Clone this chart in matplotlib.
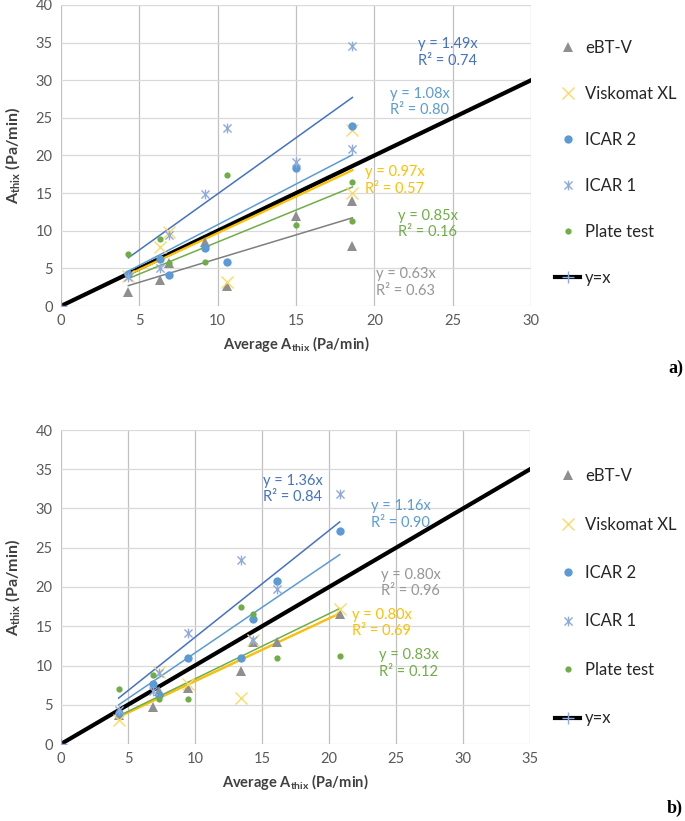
import numpy as np
import matplotlib
matplotlib.use('Agg')
import matplotlib.pyplot as plt
from matplotlib.path import Path

plt.rcParams['font.family'] = ['Lato', 'DejaVu Sans']
plt.rcParams['mathtext.fontset'] = 'custom'
plt.rcParams['mathtext.rm'] = 'Lato'
plt.rcParams['mathtext.bf'] = 'Lato:bold'

series_names = ['eBT-V', 'Viskomat XL', 'ICAR 2', 'ICAR 1', 'Plate test']

# ---- panel a) ----
a_x = {
    'eBT-V': [4.3, 6.3, 6.9, 9.2, 10.6, 15.0, 18.6, 18.6],
    'Viskomat XL': [4.3, 6.3, 6.9, 10.6, 18.6, 18.6],
    'ICAR 2': [4.3, 6.3, 6.9, 9.2, 10.6, 15.0, 18.6],
    'ICAR 1': [4.3, 6.3, 6.9, 9.2, 10.6, 15.0, 18.6, 18.6],
    'Plate test': [4.3, 6.3, 6.9, 9.2, 10.6, 15.0, 18.6, 18.6],
}
a_y = {
    'eBT-V': [1.9, 3.5, 5.7, 8.5, 2.7, 11.9, 13.9, 8.0],
    'Viskomat XL': [4.0, 7.8, 9.9, 3.2, 23.4, 15.0],
    'ICAR 2': [4.2, 6.2, 4.1, 7.7, 5.9, 18.4, 23.9],
    'ICAR 1': [3.9, 5.1, 9.4, 14.9, 23.6, 19.2, 34.5, 20.8],
    'Plate test': [6.9, 8.85, 5.7, 5.8, 17.4, 10.8, 16.5, 11.3],
}
a_slope = {'eBT-V': 0.63, 'Viskomat XL': 0.97, 'ICAR 2': 1.08, 'ICAR 1': 1.49, 'Plate test': 0.85}
a_r2 = {'eBT-V': 0.63, 'Viskomat XL': 0.57, 'ICAR 2': 0.80, 'ICAR 1': 0.74, 'Plate test': 0.16}
a_label_pos = {'eBT-V': (20.1, 3.1), 'Viskomat XL': (19.4, 16.7), 'ICAR 2': (21.0, 27.1),
               'ICAR 1': (22.8, 33.7), 'Plate test': (21.5, 10.9)}
a_identity = [0, 30]

# ---- panel b) ----
b_xvals = [4.3, 6.9, 7.3, 9.5, 13.4, 14.3, 16.1, 20.8]
b_x = {
    'eBT-V': b_xvals,
    'Viskomat XL': [4.3, 7.3, 9.5, 13.4, 14.3, 20.8],
    'ICAR 2': b_xvals,
    'ICAR 1': b_xvals,
    'Plate test': b_xvals,
}
b_y = {
    'eBT-V': [3.7, 4.7, 6.8, 7.1, 9.3, 13.0, 13.0, 16.5],
    'Viskomat XL': [3.1, 9.2, 7.6, 5.9, 13.2, 17.2],
    'ICAR 2': [4.0, 7.6, 6.2, 10.9, 10.9, 15.9, 20.8, 27.1],
    'ICAR 1': [4.3, 6.8, 9.0, 14.2, 23.4, 13.2, 19.8, 31.8],
    'Plate test': [7.0, 8.8, 5.7, 5.7, 17.5, 16.5, 10.9, 11.2],
}
b_slope = {'eBT-V': 0.80, 'Viskomat XL': 0.80, 'ICAR 2': 1.16, 'ICAR 1': 1.36, 'Plate test': 0.83}
b_r2 = {'eBT-V': 0.96, 'Viskomat XL': 0.69, 'ICAR 2': 0.90, 'ICAR 1': 0.84, 'Plate test': 0.12}
b_label_pos = {'eBT-V': (23.9, 20.5), 'Viskomat XL': (21.7, 15.4), 'ICAR 2': (23.1, 29.2),
               'ICAR 1': (15.1, 32.5), 'Plate test': (23.7, 10.3)}
b_identity = [0, 35]

# star marker like Excel's (x with a vertical bar)
star = Path([(-1, -1), (1, 1), (-1, 1), (1, -1), (0, -1.2), (0, 1.2)],
            [Path.MOVETO, Path.LINETO, Path.MOVETO, Path.LINETO, Path.MOVETO, Path.LINETO])

style = {
    'eBT-V': dict(marker='^', color='#8f8f8f', ms=7.5, mew=0),
    'Viskomat XL': dict(marker='x', color='#FFD966', ms=8, mew=1.0),
    'ICAR 2': dict(marker='o', color='#5B9BD5', ms=6, mew=0),
    'ICAR 1': dict(marker=star, color='#8FAADC', ms=7, mew=1.0),
    'Plate test': dict(marker='o', color='#70AD47', ms=4.5, mew=0),
}
trend_color = {'eBT-V': '#7f7f7f', 'Viskomat XL': '#FFC000', 'ICAR 2': '#5B9BD5',
               'ICAR 1': '#4472C4', 'Plate test': '#70AD47'}
text_color = {'eBT-V': '#969696', 'Viskomat XL': '#FFC000', 'ICAR 2': '#5B9BD5',
              'ICAR 1': '#4472C4', 'Plate test': '#70AD47'}


def draw_panel(ax, xs, ys, slopes, r2s, label_pos, identity, xmax, leg_anchor, leg_spacing):
    ax.plot(identity, identity, color='black', lw=3, marker='+', mec='#8FAADC',
            ms=8, mew=1, markevery=[0], zorder=2, label='y=x')
    handles = []
    for name in series_names:
        st = style[name]
        h, = ax.plot(xs[name], ys[name], ls='none', marker=st['marker'], ms=st['ms'],
                     color=st['color'], mec=st['color'], mew=st['mew'], zorder=4, label=name)
        handles.append(h)
        xx = np.array([min(xs[name]), max(xs[name])])
        lw = 1.6 if name == 'Viskomat XL' else 1.1
        ax.plot(xx, slopes[name] * xx, color=trend_color[name], lw=lw, zorder=3)
        tx, ty = label_pos[name]
        ax.text(tx, ty, f'y = {slopes[name]:.2f}x\nR² = {r2s[name]:.2f}', color=text_color[name],
                fontsize=10.5, va='center', ha='left', linespacing=1.25, zorder=5)
    handles.append(ax.lines[0])
    ax.set_xlim(0, xmax)
    ax.set_ylim(0, 40)
    ax.set_xticks(np.arange(0, xmax + 1, 5))
    ax.set_yticks(np.arange(0, 41, 5))
    ax.xaxis.grid(True, color='#c0c0c0', lw=0.9)
    ax.yaxis.grid(True, color='#d9d9d9', lw=0.9)
    ax.set_axisbelow(True)
    for s in ax.spines.values():
        s.set_visible(False)
    ax.tick_params(length=0, labelsize=10.5, labelcolor='#595959', pad=6)
    ax.set_xlabel(r'Average $\mathbf{A_{thix}}$ (Pa/min)', fontsize=10.5, fontweight='bold',
                  color='#404040', labelpad=4)
    ax.set_ylabel(r'$\mathbf{A_{thix}}$ (Pa/min)', fontsize=11.5, fontweight='bold',
                  color='#404040', labelpad=10)
    ax.figure.legend(handles=handles, labels=[h.get_label() for h in handles], loc='upper left',
                     bbox_to_anchor=leg_anchor, frameon=False, fontsize=12, borderpad=0,
                     borderaxespad=0, handlelength=1.5, handletextpad=0.3,
                     labelspacing=leg_spacing, labelcolor='#262626')


fig = plt.figure(figsize=(6.85, 8.21), dpi=100)
ax1 = fig.add_axes([61 / 685, 1 - 306 / 821, 470 / 685, 301 / 821])
ax2 = fig.add_axes([61 / 685, 1 - 744 / 821, 469 / 685, 314 / 821])

draw_panel(ax1, a_x, a_y, a_slope, a_r2, a_label_pos, a_identity, 30,
           (555 / 685, 1 - 40 / 821), 1.8)
draw_panel(ax2, b_x, b_y, b_slope, b_r2, b_label_pos, b_identity, 35,
           (555 / 685, 1 - 468 / 821), 1.95)

fig.text(683 / 685, 1 - 368 / 821, 'a)', fontsize=13, fontweight='bold',
         family='Liberation Serif', ha='right', va='center')
fig.text(683 / 685, 1 - 808 / 821, 'b)', fontsize=13, fontweight='bold',
         family='Liberation Serif', ha='right', va='center')

fig.savefig('out.png', dpi=100)
